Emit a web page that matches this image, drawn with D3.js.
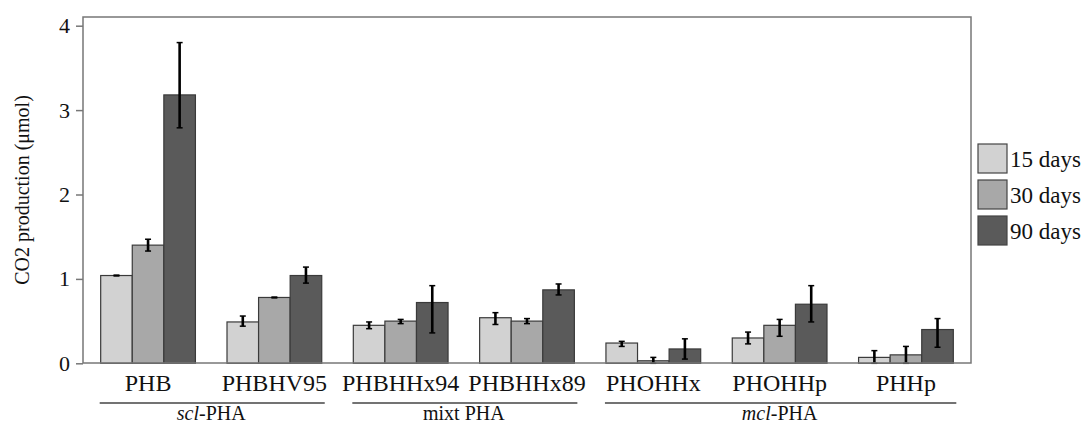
<!DOCTYPE html>
<html>
<head>
<meta charset="utf-8">
<script src="https://cdn.jsdelivr.net/npm/d3@7"></script>
<style>
  body { margin: 0; background: #fff; }
  text { font-family: "Liberation Serif", "DejaVu Serif", serif; fill: #111; }
</style>
</head>
<body>
<div id="chart"></div>
<script>
// data
var samples = ["PHB", "PHBHV95", "PHBHHx94", "PHBHHx89", "PHOHHx", "PHOHHp", "PHHp"];
var series = ["15 days", "30 days", "90 days"];

var d15 = [1.04, 0.49, 0.45, 0.54, 0.24, 0.30, 0.07];
var d30 = [1.40, 0.78, 0.50, 0.50, 0.03, 0.45, 0.10];
var d90 = [3.18, 1.04, 0.72, 0.87, 0.17, 0.70, 0.40];

// error bar ends (low, high)
var lo15 = [1.035, 0.44, 0.41, 0.46, 0.20, 0.23, 0.00];
var hi15 = [1.045, 0.56, 0.49, 0.60, 0.26, 0.37, 0.15];
var lo30 = [1.33, 0.775, 0.47, 0.47, 0.00, 0.32, 0.00];
var hi30 = [1.47, 0.785, 0.52, 0.53, 0.07, 0.52, 0.20];
var lo90 = [2.79, 0.95, 0.36, 0.81, 0.05, 0.49, 0.19];
var hi90 = [3.80, 1.14, 0.92, 0.94, 0.29, 0.92, 0.53];

var yTicks = [0, 1, 2, 3, 4];
var families = [
  {italic: "scl", rest: "-PHA", from: "PHB", to: "PHBHV95"},
  {italic: "", rest: "mixt PHA", from: "PHBHHx94", to: "PHBHHx89"},
  {italic: "mcl", rest: "-PHA", from: "PHOHHx", to: "PHHp"}
];
var colors = ["#d2d2d2", "#a8a8a8", "#5a5a5a"];

var W = 1086, H = 426;
var m = {left: 83, right: 971, top: 17, bottom: 363};

var svg = d3.select("#chart").append("svg")
  .attr("width", W).attr("height", H);

var x = d3.scaleBand()
  .domain(samples)
  .range([m.left, m.right])
  .paddingInner(0.25)
  .paddingOuter(0.14);

var xs = d3.scaleBand()
  .domain(series)
  .range([0, x.bandwidth()]);

var y = d3.scaleLinear()
  .domain([0, 4])
  .range([363.3, 25.7]);

var rows = samples.map(function(s, i) {
  return {
    name: s,
    vals: [
      {key: series[0], v: d15[i], lo: lo15[i], hi: hi15[i], c: colors[0]},
      {key: series[1], v: d30[i], lo: lo30[i], hi: hi30[i], c: colors[1]},
      {key: series[2], v: d90[i], lo: lo90[i], hi: hi90[i], c: colors[2]}
    ]
  };
});

// bars
var g = svg.append("g")
  .selectAll("g")
  .data(rows)
  .enter().append("g")
    .attr("transform", function(d) { return "translate(" + x(d.name) + ",0)"; });

g.selectAll("rect")
  .data(function(d) { return d.vals; })
  .enter().append("rect")
    .attr("x", function(d) { return xs(d.key); })
    .attr("y", function(d) { return y(d.v); })
    .attr("width", xs.bandwidth())
    .attr("height", function(d) { return y(0) - y(d.v); })
    .attr("fill", function(d) { return d.c; })
    .attr("stroke", "#3a3a3a")
    .attr("stroke-width", 1.2);

// error bars
var eb = g.selectAll("g.err")
  .data(function(d) { return d.vals; })
  .enter().append("g")
    .attr("class", "err")
    .attr("transform", function(d) { return "translate(" + (xs(d.key) + xs.bandwidth() / 2) + ",0)"; });
eb.append("line")
  .attr("y1", function(d) { return y(d.lo); })
  .attr("y2", function(d) { return y(d.hi); })
  .attr("stroke", "#000").attr("stroke-width", 2.6);
eb.append("line")
  .attr("x1", -3).attr("x2", 3)
  .attr("y1", function(d) { return y(d.hi); })
  .attr("y2", function(d) { return y(d.hi); })
  .attr("stroke", "#000").attr("stroke-width", 1.5);
eb.append("line")
  .attr("x1", -3).attr("x2", 3)
  .attr("y1", function(d) { return y(d.lo); })
  .attr("y2", function(d) { return y(d.lo); })
  .attr("stroke", "#000").attr("stroke-width", 1.5);

// frame
svg.append("rect")
  .attr("x", m.left).attr("y", m.top)
  .attr("width", m.right - m.left).attr("height", m.bottom - m.top)
  .attr("fill", "none")
  .attr("stroke", "#777").attr("stroke-width", 1.5);

// y axis
var yAxis = svg.append("g")
  .attr("transform", "translate(" + m.left + ",0)")
  .call(d3.axisLeft(y).tickValues(yTicks).tickSize(7).tickPadding(6).tickFormat(d3.format("d")));
yAxis.select(".domain").remove();
yAxis.selectAll(".tick line").attr("stroke", "#777").attr("stroke-width", 1.5);
yAxis.selectAll(".tick text")
  .style("font-family", "'Liberation Serif', serif")
  .style("font-size", "22px").attr("fill", "#111");

svg.append("text")
  .attr("transform", "translate(22," + ((m.top + m.bottom) / 2) + ") rotate(-90)")
  .attr("text-anchor", "middle")
  .attr("dy", "0.35em")
  .style("font-size", "20px")
  .text("CO2 production (\u03bcmol)");

// x labels
svg.append("g")
  .selectAll("text")
  .data(samples)
  .enter().append("text")
    .attr("x", function(d) { return x(d) + x.bandwidth() / 2; })
    .attr("y", 391)
    .attr("text-anchor", "middle")
    .style("font-size", "24px")
    .text(function(d) { return d; });

// family lines and labels
var fam = svg.append("g").selectAll("g")
  .data(families)
  .enter().append("g");
fam.append("line")
  .attr("x1", function(d) { return x(d.from) - 1; })
  .attr("x2", function(d) { return x(d.to) + x.bandwidth() + 3; })
  .attr("y1", 403).attr("y2", 403)
  .attr("stroke", "#444").attr("stroke-width", 1.5);
var ft = fam.append("text")
  .attr("x", function(d) { return (x(d.from) + x(d.to) + x.bandwidth()) / 2; })
  .attr("y", 420)
  .attr("text-anchor", "middle")
  .style("font-size", "20px");
ft.append("tspan")
  .style("font-style", "italic")
  .text(function(d) { return d.italic; });
ft.append("tspan")
  .text(function(d) { return d.rest; });

// legend
var lg = svg.append("g").selectAll("g")
  .data(series)
  .enter().append("g")
    .attr("transform", function(d, i) { return "translate(978," + (144 + i * 36) + ")"; });
lg.append("rect")
  .attr("width", 29).attr("height", 29)
  .attr("fill", function(d, i) { return colors[i]; })
  .attr("stroke", "#444").attr("stroke-width", 1.2);
lg.append("text")
  .attr("x", 32).attr("y", 15)
  .attr("dy", "0.35em")
  .style("font-size", "23px")
  .text(function(d) { return d; });
</script>
</body>
</html>
